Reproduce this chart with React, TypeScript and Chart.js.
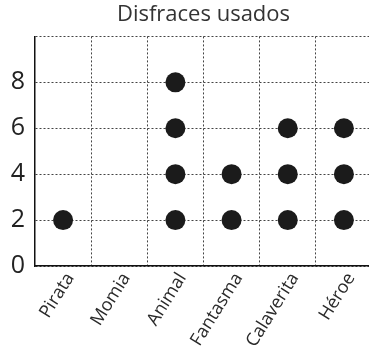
import React, { useEffect, useRef } from 'react';
import { Chart, registerables } from 'chart.js';

Chart.register(...registerables);

const chartTitle = 'Disfraces usados';
const categories = ['Pirata', 'Momia', 'Animal', 'Fantasma', 'Calaverita', 'Héroe'];

// Dots stacked in each column (value of each dot)
const dotsPirata = [2];
const dotsMomia: number[] = [];
const dotsAnimal = [2, 4, 6, 8];
const dotsFantasma = [2, 4];
const dotsCalaverita = [2, 4, 6];
const dotsHeroe = [2, 4, 6];
const dotColumns = [dotsPirata, dotsMomia, dotsAnimal, dotsFantasma, dotsCalaverita, dotsHeroe];

const yTickLabels = [0, 2, 4, 6, 8];
const yMin = 0;
const yMax = 10;
const yStep = 2;

const FONT = "'Open Sans', 'Noto Sans', sans-serif";

export default function App() {
  const canvasRef = useRef<HTMLCanvasElement | null>(null);

  useEffect(() => {
    if (!canvasRef.current) return;
    const points: { x: string; y: number }[] = [];
    dotColumns.forEach((col, i) => {
      col.forEach((v) => points.push({ x: categories[i], y: v }));
    });

    const chart = new Chart(canvasRef.current, {
      type: 'scatter',
      data: {
        labels: categories,
        datasets: [
          {
            data: points as any,
            pointRadius: 10,
            pointHoverRadius: 10,
            backgroundColor: '#1b1b1b',
            borderWidth: 0,
            clip: false,
          },
        ],
      },
      options: {
        animation: false,
        responsive: false,
        maintainAspectRatio: false,
        devicePixelRatio: 1,
        layout: { autoPadding: false, padding: { left: 0, right: 2, top: 0, bottom: 0 } },
        plugins: {
          legend: { display: false },
          tooltip: { enabled: false },
          title: {
            display: true,
            text: chartTitle,
            fullSize: false,
            color: '#333',
            font: { family: FONT, size: 22, weight: 'normal' as any },
            padding: { top: 2, bottom: 8 },
          },
        },
        scales: {
          x: {
            type: 'category',
            labels: categories,
            offset: true,
            grid: {
              offset: true,
              drawTicks: false,
              color: '#444',
              lineWidth: 1,
            },
            border: { display: true, color: '#111', width: 1.5, dash: [2, 2] },
            ticks: {
              autoSkip: false,
              minRotation: 58,
              maxRotation: 58,
              padding: 3,
              labelOffset: 7,
              color: '#2a2a2a',
              font: { family: FONT, size: 18 },
            },
            afterFit: (s: any) => {
              s.height = 84;
              s.paddingLeft = 0;
              s.paddingRight = 0;
            },
          },
          y: {
            min: yMin,
            max: yMax,
            grid: { drawTicks: false, color: '#444', lineWidth: 1 },
            border: { display: true, color: '#111', width: 1.5, dash: [2, 2] },
            ticks: {
              stepSize: yStep,
              padding: 10,
              color: '#222',
              font: { family: FONT, size: 25 },
              callback: (v: any) => (yTickLabels.includes(Number(v)) ? String(v) : ''),
            },
            afterFit: (s: any) => {
              s.width = 35;
              s.paddingTop = 0;
              s.paddingBottom = 0;
            },
          },
        },
      } as any,
    });
    return () => chart.destroy();
  }, []);

  return (
    <div style={{ position: 'absolute', left: 0, top: 0, width: 369, height: 350, overflow: 'hidden' }}>
      <canvas ref={canvasRef} width={374} height={350} style={{ display: 'block', width: 374, height: 350 }} />
    </div>
  );
}
